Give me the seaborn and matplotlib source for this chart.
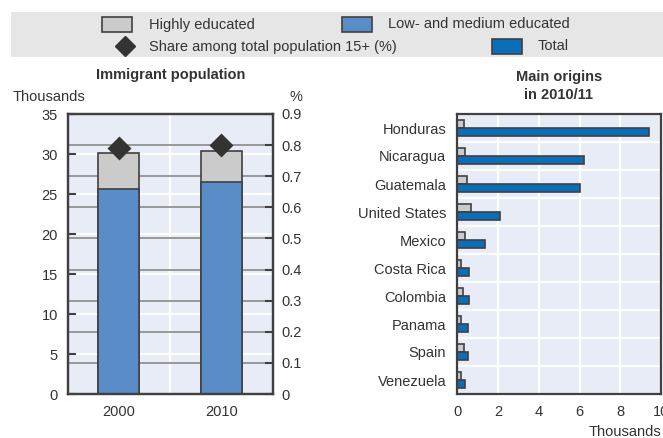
import numpy as np
import pandas as pd
import matplotlib
matplotlib.use("Agg")
import matplotlib.pyplot as plt
import matplotlib.transforms as mtransforms
from matplotlib.patches import Rectangle
from matplotlib.lines import Line2D
import seaborn as sns

# left panel: immigrant population (thousands) and share of population 15+ (%)
years = ["2000", "2010"]
low_medium = [25.6, 26.5]
highly = [4.5, 3.9]
share_pct = [0.79, 0.80]

# right panel: main origins in 2010/11 (thousands)
countries = ["Honduras", "Nicaragua", "Guatemala", "United States", "Mexico",
             "Costa Rica", "Colombia", "Panama", "Spain", "Venezuela"]
origin_highly = [0.33, 0.39, 0.46, 0.65, 0.39, 0.16, 0.29, 0.16, 0.33, 0.20]
origin_total = [9.43, 6.21, 6.02, 2.12, 1.38, 0.59, 0.59, 0.52, 0.52, 0.39]

GRAY = "#cbcbcb"
BLUE_LM = "#5a8cc8"
BLUE_TOT = "#0b6eb9"
EDGE = "#404040"
BG = "#e8ecf7"
TXT = "#333333"
FS = 10.5

sns.set_style("white")
plt.rcParams["font.family"] = ["Liberation Sans", "DejaVu Sans"]
plt.rcParams["font.size"] = FS

W, H = 663, 438
fig = plt.figure(figsize=(W / 100, H / 100), dpi=100)

def fx(px):
    return px / W

def fy(py):
    return 1 - py / H

# ---- legend band
fig.patches.append(Rectangle((fx(11), fy(57)), 1 - fx(11), fy(12) - fy(57),
                             transform=fig.transFigure, facecolor="#e6e6e6",
                             edgecolor="none", zorder=0))
for x0, y0, col in [(102, 17, GRAY), (342, 17, BLUE_LM), (492, 39, BLUE_TOT)]:
    fig.patches.append(Rectangle((fx(x0), fy(y0 + 15)), fx(30), 15 / H,
                                 transform=fig.transFigure, facecolor=col,
                                 edgecolor=EDGE, lw=1.2, zorder=2))
fig.lines.append(Line2D([fx(125)], [fy(46)], transform=fig.transFigure,
                        marker="D", markersize=10, color=TXT, ls="none"))
fig.text(fx(149), fy(24.5), "Highly educated", va="center", color=TXT)
fig.text(fx(388), fy(24.5), "Low- and medium educated", va="center", color=TXT)
fig.text(fx(149), fy(46.5), "Share among total population 15+ (%)", va="center", color=TXT)
fig.text(fx(538), fy(46.5), "Total", va="center", color=TXT)

# ---- left panel
ax1 = fig.add_axes([fx(67.7), fy(394), fx(272.7 - 67.7), (394 - 114) / H])
ax1.set_facecolor(BG)
ax1.set_axisbelow(True)
total = np.array(low_medium) + np.array(highly)
sns.barplot(x=years, y=total, ax=ax1, color=GRAY, width=0.4, saturation=1,
            edgecolor=EDGE, linewidth=1.2)
sns.barplot(x=years, y=low_medium, ax=ax1, color=BLUE_LM, width=0.4, saturation=1,
            edgecolor=EDGE, linewidth=1.2)

ax1r = ax1.twinx()
ax1r.set_ylim(0, 0.9)
pct_ticks = np.round(np.arange(0, 0.91, 0.1), 1)
ax1r.set_yticks(pct_ticks)
ax1r.set_yticklabels(["0"] + [f"{t:.1f}" for t in pct_ticks[1:]])
sns.pointplot(x=years, y=share_pct, ax=ax1r, marker="D", linestyle="none",
              markersize=10, color=TXT, errorbar=None)
ax1r.set_ylim(0, 0.9)

# dark grid lines for the % axis, kept behind the bars
blend = mtransforms.blended_transform_factory(ax1.transAxes, ax1r.transData)
ax1.hlines(pct_ticks[1:-1], 0, 1, transform=blend, colors="#8a8a8a", lw=1.2, zorder=0.8)

ax1.set_ylim(0, 35)
ax1.set_yticks(np.arange(0, 36, 5))
ax1.set_xlim(-0.5, 1.5)
ax1.set_xticks([0.5], minor=True)
ax1.grid(axis="y", which="major", color="white", lw=1.6)
ax1.grid(axis="x", which="minor", color="white", lw=1.6)
ax1.grid(axis="x", which="major", visible=False)
ax1.tick_params(axis="y", direction="in", length=6, width=1.5, color=EDGE,
                labelcolor=TXT, labelsize=FS, pad=7)
ax1.tick_params(axis="x", which="major", length=0, labelcolor=TXT, labelsize=FS, pad=8)
ax1.tick_params(axis="x", which="minor", direction="in", length=6, width=1.5, color=EDGE)
ax1r.tick_params(axis="y", direction="in", length=6, width=1.5, color=EDGE,
                 labelcolor=TXT, labelsize=FS, pad=6.5)
ax1r.set_xlim(-0.5, 1.5)
for a in (ax1, ax1r):
    a.set_xlabel("")
    a.set_ylabel("")
    for s in a.spines.values():
        s.set_color(EDGE)
        s.set_linewidth(1.6)

fig.text(fx(171), fy(75), "Immigrant population", ha="center", va="center",
         fontweight="bold", color=TXT)
fig.text(fx(13), fy(97), "Thousands", ha="left", va="center", color=TXT)
fig.text(fx(290), fy(97), "%", ha="left", va="center", color=TXT)

# ---- right panel
ax2 = fig.add_axes([fx(457.3), fy(394), fx(661 - 457.3), (394 - 114) / H])
ax2.set_facecolor(BG)
ax2.set_axisbelow(True)
df = pd.DataFrame({
    "country": countries * 2,
    "series": ["Highly educated"] * len(countries) + ["Total"] * len(countries),
    "value": origin_highly + origin_total,
})
sns.barplot(data=df, x="value", y="country", hue="series", orient="h",
            hue_order=["Highly educated", "Total"],
            palette={"Highly educated": GRAY, "Total": BLUE_TOT},
            width=0.58, saturation=1, edgecolor=EDGE, linewidth=1.2,
            legend=False, ax=ax2)
ax2.set_xlim(0, 10)
ax2.set_xticks(np.arange(0, 11, 2))
ax2.set_yticks(np.arange(0.5, len(countries) - 1, 1), minor=True)
ax2.grid(axis="x", which="major", color="white", lw=1.6)
ax2.grid(axis="y", which="minor", color="white", lw=1.6)
ax2.grid(axis="y", which="major", visible=False)
ax2.tick_params(axis="x", direction="in", length=6, width=1.5, color=EDGE,
                labelcolor=TXT, labelsize=FS, pad=8)
ax2.tick_params(axis="y", which="major", length=0, labelcolor=TXT, labelsize=FS, pad=8)
ax2.tick_params(axis="y", which="minor", direction="in", length=7, width=1.5, color="#8a8a8a")
ax2.set_xlabel("")
ax2.set_ylabel("")
for s in ax2.spines.values():
    s.set_color(EDGE)
    s.set_linewidth(1.6)

fig.text(fx(559), fy(86), "Main origins\nin 2010/11", ha="center", va="center",
         fontweight="bold", color=TXT, linespacing=1.3)
fig.text(fx(661), fy(432), "Thousands", ha="right", va="center", color=TXT)

fig.savefig("out.png", dpi=100)
